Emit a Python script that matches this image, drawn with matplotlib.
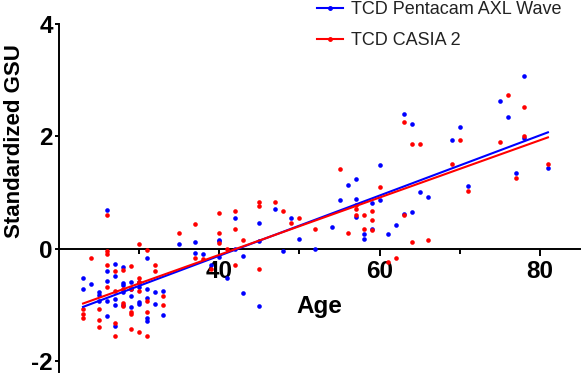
import numpy as np
import matplotlib.pyplot as plt

plt.rcParams['font.family'] = ['Liberation Sans', 'DejaVu Sans']

# TCD Pentacam AXL Wave (blue)
age_blue = [23, 23, 24, 25, 25, 25,
            26, 26, 26, 26, 26,
            27, 27, 27, 27, 27,
            28, 28, 28, 28, 28,
            29, 29, 29, 29,
            30, 30, 30, 30,
            31, 31, 31, 31, 31,
            32, 32, 33, 33,
            35, 37, 37, 38, 39, 40, 40, 40, 41, 42, 42, 43, 43,
            45, 45, 45, 47, 48, 49, 50, 52, 54, 55, 56, 57, 57, 57,
            58, 58, 59, 59, 60, 60, 61, 62, 63, 63, 64, 64, 65, 66,
            69, 70, 71, 75, 76, 77, 78, 78, 81]
gsu_blue = [-0.52, -0.73, -0.64, -0.78, -0.83, -0.94,
            0.68, -0.40, -0.57, -0.94, -1.21,
            -0.27, -0.49, -0.90, -1.00, -1.375,
            -0.33, -0.61, -0.65, -0.78, -1.00,
            -0.59, -0.72, -0.84, -1.05,
            -0.59, -0.68, -0.96, -0.99,
            -0.17, -0.72, -0.88, -1.24, -1.29,
            -0.78, -0.99, -0.75, -1.18,
            0.08, 0.11, -0.08, -0.10, -0.30, 0.155, 0.14, -0.155, -0.52, 0.54, -0.01, -0.14, -0.80,
            0.45, 0.14, -1.02, 0.71, -0.04, 0.55, 0.17, 0.0, 0.39, 0.87, 1.125, 1.24, 0.89, 0.56,
            0.26, 0.17, 0.81, 0.35, 1.48, 0.86, 0.26, 0.42, 2.40, 0.62, 2.21, 0.65, 1.00, 0.92,
            1.93, 2.17, 1.11, 2.63, 2.35, 1.345, 3.07, 1.97, 1.43]

# TCD CASIA 2 (red)
age_red = [23, 23, 23, 24, 25, 25, 25,
           26, 26, 26, 26, 26,
           27, 27, 27, 27,
           28, 28, 28, 28,
           29, 29, 29, 29, 29,
           30, 30, 30, 30, 30,
           31, 31, 31, 31,
           32, 32, 33, 33,
           35, 37, 37, 38, 39, 40, 40, 40, 41, 42, 42, 42, 43,
           45, 45, 45, 47, 48, 49, 50, 52, 55, 56, 57, 57, 57,
           58, 58, 59, 59, 59, 60, 61, 62, 63, 63, 64, 64, 65, 66,
           69, 70, 71, 75, 76, 77, 78, 78, 81]
gsu_red = [-1.08, -1.17, -1.24, -0.17, -1.08, -1.27, -1.39,
           0.59, -0.04, -0.10, -0.29, -0.69,
           -0.40, -0.75, -1.32, -1.55,
           -0.39, -0.73, -0.97, -1.02,
           -0.32, -0.72, -1.125, -1.17, -1.43,
           0.08, -0.52, -0.59, -0.75, -1.48,
           -0.02, -0.93, -1.125, -1.55,
           -0.29, -0.40, -0.84, -1.01,
           0.27, 0.43, -0.17, -0.18, -0.36, 0.63, 0.27, 0.10, 0.0, 0.67, 0.35, -0.29, 0.155,
           0.83, 0.75, -0.36, 0.83, 0.66, 0.46, 0.55, 0.345, 1.42, 0.27, 0.77, 0.71, 0.59,
           0.59, 0.345, 0.67, 0.50, 0.33, 1.10, -0.24, -0.17, 2.25, 0.59, 1.86, 0.11, 1.86, 0.15,
           1.50, 1.93, 1.02, 1.90, 2.73, 1.26, 2.52, 2.00, 1.50]

# regression lines (start/end)
fit_x = [23, 81]
fit_blue = [-1.04, 2.07]
fit_red = [-0.98, 1.98]

blue = '#0000ff'
red = '#ff0000'

fig = plt.figure(figsize=(5.82, 3.74), dpi=100)
ax = fig.add_axes([59 / 582, 2 / 374, 521 / 582, 348 / 374])

ax.scatter(age_blue, gsu_blue, s=11, color=blue, linewidths=0, zorder=3)
ax.scatter(age_red, gsu_red, s=11, color=red, linewidths=0, zorder=3)
ax.plot(fit_x, fit_blue, color=blue, lw=1.5, zorder=4)
ax.plot(fit_x, fit_red, color=red, lw=1.5, zorder=4)

ax.set_xlim(20, 85)
ax.set_ylim(-2.2, 4)

ax.spines['top'].set_visible(False)
ax.spines['right'].set_visible(False)
ax.spines['bottom'].set_position(('data', 0))
ax.spines['left'].set_linewidth(1.4)
ax.spines['bottom'].set_linewidth(1.4)

ax.set_xticks([40, 60, 80])
ax.set_xticks([30, 50, 70], minor=True)
ax.set_yticks([-2, 0, 2, 4])
ax.set_yticklabels(['-2', '0', '2', '4'])
ax.tick_params(axis='x', which='major', direction='out', length=5, width=1.4, pad=3)
ax.tick_params(axis='x', which='minor', direction='out', length=3.5, width=1.4)
ax.tick_params(axis='y', direction='out', length=3, width=1.4, pad=1.5)
for lab in ax.get_xticklabels() + ax.get_yticklabels():
    lab.set_fontsize(17.5)
    lab.set_fontweight('bold')

ax.set_ylabel('Standardized GSU', fontsize=16, fontweight='bold')
ax.yaxis.set_label_coords(-0.066, 0.665)
ax.text(0.5, 0.17, 'Age', transform=ax.transAxes, ha='center', va='baseline',
        fontsize=17.5, fontweight='bold')

h1, = ax.plot([], [], color=blue, lw=1.5, marker='o', ms=2.5)
h2, = ax.plot([], [], color=red, lw=1.5, marker='o', ms=2.5)
fig.legend([h1, h2], ['TCD Pentacam AXL Wave', 'TCD CASIA 2'],
           loc='upper left', bbox_to_anchor=(317 / 582, 0.997), frameon=False,
           fontsize=13, borderpad=0, borderaxespad=0, handlelength=1.45,
           handletextpad=0.45, labelspacing=0.78, labelcolor='#222222')

fig.savefig('out.png', dpi=100)
